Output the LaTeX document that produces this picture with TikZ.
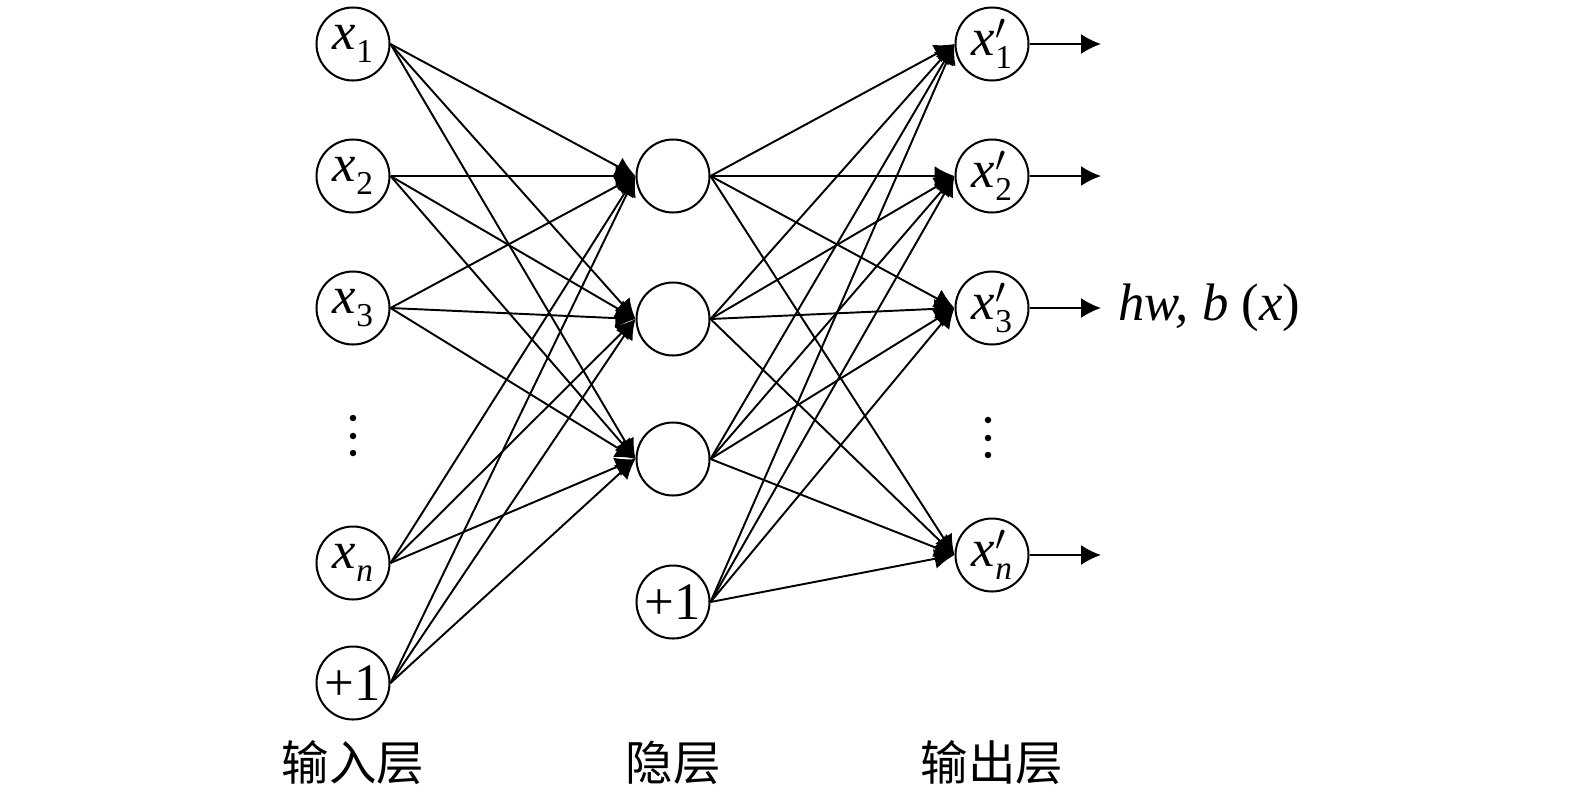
\documentclass[tikz,border=0pt]{standalone}
\usepackage{fontspec}
\setmainfont{Liberation Serif}
\newfontfamily\cjk{Noto Sans CJK SC}
\usetikzlibrary{arrows.meta}
\tikzset{>={Latex[length=0.4cm,width=0.4cm]}}
\tikzset{
  neuron/.style={circle,draw,line width=1.15pt,minimum size=1.46cm,inner sep=0pt,
                 font=\fontsize{30}{36}\selectfont},
  weight/.style={->,line width=1.1pt},
  layer label/.style={font=\cjk\fontsize{27}{32}\selectfont}
}
\newcommand\sub[1]{\raisebox{-0.24em}{\fontsize{19}{20}\selectfont#1}}
\newcommand\xin[1]{\textit{x}\sub{#1}}
\newcommand\xout[1]{\textit{x}\rlap{$^{\prime}$}\sub{#1}}

\begin{document}
\begin{tikzpicture}
  \def\xa{7.06}  % input layer
  \def\xb{13.46} % hidden layer
  \def\xc{19.84} % output layer
  \useasboundingbox (0,0) rectangle (31.5,-15.9);
  
  % INPUT
  \node[neuron] (x1) at (\xa,-0.88) {\xin{1}};
  \node[neuron] (x2) at (\xa,-3.52) {\xin{2}};
  \node[neuron] (x3) at (\xa,-6.16) {\xin{3}};
  \node[neuron] (xn) at (\xa,-11.26) {\xin{\textit{n}}};
  \node[neuron] (b1) at (\xa,-13.66) {+1};
  \foreach \y in {-8.36,-8.72,-9.06}
    \fill (\xa,\y) circle (0.065);
  
  % HIDDEN
  \node[neuron] (h1) at (\xb,-3.52) {};
  \node[neuron] (h2) at (\xb,-6.38) {};
  \node[neuron] (h3) at (\xb,-9.18) {};
  \node[neuron] (b2) at (\xb,-12.04) {+1};
  
  % OUTPUT
  \node[neuron] (o1) at (\xc,-0.88) {\xout{1}};
  \node[neuron] (o2) at (\xc,-3.52) {\xout{2}};
  \node[neuron] (o3) at (\xc,-6.16) {\xout{3}};
  \node[neuron] (on) at (\xc,-11.10) {\xout{\textit{n}}};
  \foreach \y in {-8.40,-8.76,-9.10}
    \fill (19.76,\y) circle (0.065);
  \coordinate (y1) at (22.02,-0.88);
  \coordinate (y2) at (22.02,-3.52);
  \coordinate (y3) at (22.02,-6.16);
  \coordinate (yn) at (22.02,-11.10);
  \node[anchor=west,inner sep=0pt,font=\fontsize{30}{36}\selectfont] (hwb) at (22.36,-6.16)
    {\textit{hw, b} (\textit{x})};
  
  % WEIGHTS
  \foreach \i in {x1,x2,x3,xn,b1}{
    \foreach \j in {h1,h2,h3}{
      \draw[weight] (\i.east) -- (\j.west);
    }
  }
  \foreach \i in {h1,h2,h3,b2}{
    \foreach \j in {o1,o2,o3,on}{
      \draw[weight] (\i.east) -- (\j.west);
    }
  }
  \foreach \i in {1,2,3,n}{
    \draw[weight] (o\i.east) -- (y\i);
  }
  
  % LABELS
  \node[layer label] (lin)  at (\xa,-15.26) {输入层};
  \node[layer label] (lhid) at (\xb,-15.26) {隐层};
  \node[layer label] (lout) at (\xc,-15.26) {输出层};
  
\end{tikzpicture}
\end{document}
